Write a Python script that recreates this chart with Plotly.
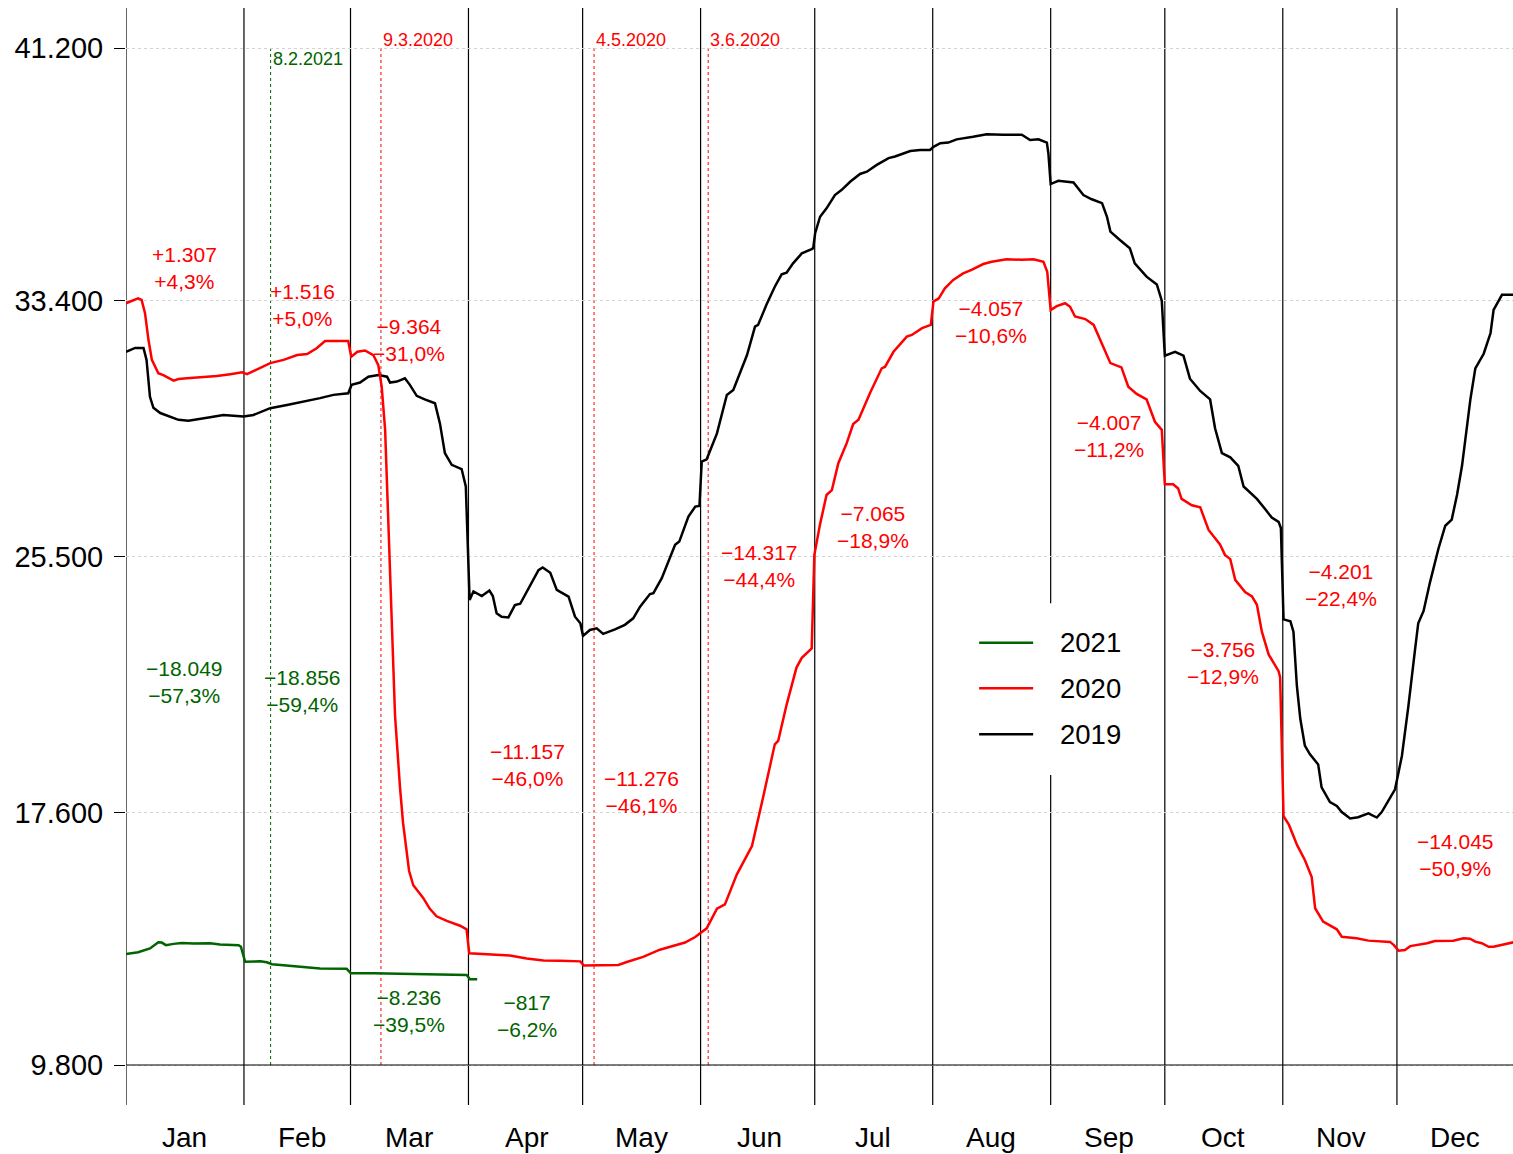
import plotly.graph_objects as go

FONT = "Liberation Sans, Arial, Helvetica, sans-serif"

months = ["Jan", "Feb", "Mar", "Apr", "May", "Jun", "Jul", "Aug", "Sep", "Oct", "Nov", "Dec"]
month_days = [31, 28, 31, 30, 31, 30, 31, 31, 30, 31, 30, 31]

y_ticks = [9800, 17600, 25500, 33400, 41200]
y_tick_text = ["9.800", "17.600", "25.500", "33.400", "41.200"]

# (day of year, value)
series_2019 = [
    (0, 31820), (2.4, 31940), (4.6, 31940), (5.4, 31570), (6.3, 30430), (7.2, 30090), (9, 29930),
    (11.6, 29820), (13.8, 29720), (16.4, 29690), (19.5, 29740), (22.1, 29800), (25.6, 29870),
    (30.9, 29820), (33.5, 29870), (37.9, 30080), (42.3, 30180), (46.7, 30280), (51.0, 30390),
    (54.5, 30490), (58.4, 30540), (59.3, 30800), (61.5, 30870), (63.7, 31050), (66.3, 31100),
    (68.6, 31050), (69.4, 30870), (71.2, 30900), (73.3, 31000), (74.6, 30800), (76.4, 30460),
    (78.5, 30350), (81.2, 30230), (82.5, 29610), (83.8, 28690), (85.6, 28330), (88.2, 28200),
    (89.3, 27660), (90.3, 24160), (91.3, 24420), (93.5, 24280), (95.5, 24450), (96.4, 24280),
    (97.4, 23750), (98.7, 23640), (100.5, 23620), (102.2, 24000), (103.6, 24040), (106.2, 24620),
    (108.4, 25080), (109.5, 25160), (111.5, 25000), (113.2, 24470), (116.3, 24260), (118.0, 23640),
    (119.4, 23440), (120.1, 23050), (121.9, 23230), (123.7, 23280), (125.4, 23110), (128.5, 23250),
    (131.1, 23390), (133.3, 23590), (135.1, 23950), (137.7, 24340), (138.6, 24370), (140.8, 24830),
    (144.3, 25860), (145.4, 25960), (147.8, 26730), (149.6, 27040), (150.7, 27060), (151.3, 28430),
    (152.6, 28500), (155.3, 29300), (157.9, 30490), (159.6, 30640), (161.4, 31160), (163.2, 31720),
    (165.3, 32600), (166.1, 32650), (168.3, 33270), (170.5, 33830), (172.3, 34210), (173.6, 34260),
    (175.3, 34550), (177.6, 34860), (180.2, 34990), (180.6, 35020), (181.1, 35480), (182.4, 35990),
    (184.1, 36250), (186.3, 36660), (188.1, 36820), (190.3, 37070), (192.9, 37310), (194.7, 37380),
    (197.3, 37590), (200.4, 37800), (202.1, 37850), (206.1, 38020), (208.7, 38050), (211.3, 38050),
    (212.2, 38150), (214.0, 38260), (216.1, 38280), (218.3, 38380), (222.6, 38460), (226.2, 38540),
    (230.5, 38520), (235.4, 38520), (237.6, 38360), (239.8, 38380), (242.0, 38280), (242.4, 37950),
    (243.0, 37000), (245.0, 37100), (249.0, 37050), (251.6, 36660), (253.8, 36530), (256.5, 36410),
    (257.8, 35990), (258.7, 35530), (261.2, 35270), (263.8, 35020), (265.1, 34550), (268.2, 34140),
    (270.9, 33900), (272.2, 33400), (273.0, 31700), (275.7, 31820), (277.9, 31700), (279.6, 30990),
    (282.3, 30610), (284.9, 30350), (286.2, 29460), (288.0, 28690), (290.2, 28560), (292.3, 28300),
    (293.7, 27660), (297.2, 27280), (299.4, 26960), (301.1, 26700), (302.9, 26570), (303.5, 26380),
    (304.2, 23560), (306.0, 23500), (306.8, 23180), (307.7, 21510), (308.6, 20490), (309.8, 19660),
    (311.1, 19400), (313.3, 19080), (314.2, 18370), (316.4, 17920), (318.2, 17800), (319.5, 17610),
    (321.7, 17410), (323.8, 17450), (326.5, 17570), (328.7, 17440), (330.0, 17610), (331.8, 17990),
    (333.5, 18310), (335.3, 19340), (337.0, 20870), (338.8, 22670), (339.6, 23440), (341.0, 23820),
    (342.7, 24710), (344.9, 25740), (346.7, 26450), (348.4, 26640), (349.8, 27410), (351.1, 28300),
    (352.4, 29460), (353.3, 30350), (354.6, 31310), (356.8, 31760), (358.6, 32400), (359.4, 33110),
    (361.6, 33580), (365, 33580),
]

series_2020 = [
    (0, 33320), (1.9, 33420), (3.2, 33470), (4.1, 33420), (5, 33010), (5.9, 32190), (6.8, 31570),
    (8.5, 31160), (9.8, 31100), (12.5, 30930), (13.8, 30980), (16, 31000), (19.5, 31030),
    (23.9, 31070), (27.4, 31130), (30.5, 31190), (31.8, 31130), (34, 31260), (37.9, 31470),
    (41.4, 31570), (45, 31720), (47.6, 31750), (50.1, 31930), (52.3, 32150), (55.4, 32160),
    (58.4, 32150), (59.2, 31670), (60.8, 31820), (62.8, 31860), (65.0, 31720), (66.3, 31410),
    (67.2, 30740), (68.1, 29410), (68.9, 26700), (69.9, 22790), (70.7, 20590), (72.0, 18380),
    (72.8, 17280), (74.4, 15790), (75.5, 15350), (78.1, 14960), (79.8, 14630), (81.6, 14390),
    (84.3, 14250), (87.8, 14100), (89.5, 13990), (90.2, 13250), (93.0, 13230), (96.5, 13200),
    (100.9, 13180), (105.3, 13090), (109.7, 13030), (114.1, 13020), (119.4, 13000), (120.3, 12870),
    (124.5, 12870), (129.4, 12890), (131.6, 12980), (135.9, 13140), (140.3, 13360), (143.8, 13470),
    (146.9, 13580), (149.6, 13750), (150.9, 13860), (152.6, 14020), (155.3, 14630), (157.4, 14760),
    (160.5, 15680), (164.5, 16560), (167.4, 18050), (170.5, 19700), (171.4, 19810), (173.6, 20920),
    (176.2, 22070), (177.6, 22370), (180.2, 22660), (180.9, 25550), (182.4, 26500), (184.1, 27400),
    (185.5, 27550), (187.2, 28380), (189.4, 29000), (191.1, 29590), (192.5, 29720), (195.5, 30540),
    (198.6, 31310), (199.5, 31360), (201.7, 31820), (205.2, 32290), (206.5, 32340), (209.2, 32550),
    (211.5, 32650), (212.2, 33370), (213.6, 33470), (215.2, 33780), (217.4, 34040), (220.0, 34240),
    (222.2, 34350), (225.3, 34530), (227.5, 34600), (231.4, 34680), (235.4, 34660), (238.5, 34680),
    (241.1, 34600), (242.1, 34290), (243.0, 33110), (244.6, 33230), (246.8, 33320), (248.1, 33210),
    (249.4, 32910), (252.1, 32830), (254.3, 32650), (256.9, 31980), (258.7, 31470), (261.6, 31340),
    (263.4, 30740), (265.6, 30520), (268.2, 30350), (270.4, 29660), (272.2, 29410), (273.0, 27730),
    (275.2, 27730), (276.5, 27600), (277.4, 27280), (280.1, 27080), (282.3, 27020), (284.5, 26320),
    (287.5, 25870), (288.8, 25550), (290.2, 25420), (291.5, 24780), (294.1, 24400), (295.9, 24270),
    (297.2, 24010), (298.5, 23180), (300.3, 22470), (302.9, 21960), (303.3, 21770), (304.2, 17480),
    (305.6, 17220), (307.8, 16580), (309.8, 16130), (311.6, 15600), (312.5, 14640), (314.6, 14230),
    (316.4, 14120), (318.2, 13990), (319.5, 13760), (323.4, 13710), (326.5, 13640), (332.2, 13600),
    (333.2, 13500), (334.4, 13330), (336.1, 13350), (337.5, 13470), (341.9, 13560), (344.0, 13630),
    (348.8, 13640), (351.5, 13710), (353.2, 13700), (354.6, 13610), (356.3, 13560), (358.1, 13450),
    (359.4, 13450), (365, 13600),
]

series_2021 = [
    (0, 13230), (3.2, 13280), (6.3, 13400), (8.5, 13590), (9.4, 13580), (10.5, 13500), (12.5, 13540),
    (14.7, 13570), (17.7, 13550), (22.1, 13560), (24.7, 13520), (29.6, 13500), (30.2, 13450),
    (31.3, 12990), (35.3, 13000), (37, 12970), (38.4, 12910), (42.3, 12870), (46.7, 12810),
    (51.0, 12780), (58.0, 12770), (59.1, 12630), (65.0, 12630), (72.8, 12610), (81.6, 12600),
    (89.5, 12580), (90.4, 12450), (92.3, 12450),
]

# monthly change 2020 vs 2019
diff_2020 = ["+1.307", "+1.516", "\u22129.364", "\u221211.157", "\u221211.276", "\u221214.317",
             "\u22127.065", "\u22124.057", "\u22124.007", "\u22123.756", "\u22124.201", "\u221214.045"]
pct_2020 = ["+4,3%", "+5,0%", "\u221231,0%", "\u221246,0%", "\u221246,1%", "\u221244,4%",
            "\u221218,9%", "\u221210,6%", "\u221211,2%", "\u221212,9%", "\u221222,4%", "\u221250,9%"]
# monthly change 2021 vs 2020
diff_2021 = ["\u221218.049", "\u221218.856", "\u22128.236", "\u2212817"]
pct_2021 = ["\u221257,3%", "\u221259,4%", "\u221239,5%", "\u22126,2%"]

# label placement (day of year of each month label / value level of each change label)
month_label_x = [15.4, 46.3, 74.4, 105.5, 135.5, 166.4, 196.2, 227.3, 258.2, 288.3, 319.4, 349.3]
label_y_2020 = [34420, 33250, 32200, 19050, 18240, 25210, 26410, 32740, 29220, 22200, 24620, 16270]
label_y_2021 = [21625, 21360, 11470, 11300]

event_labels = ["8.2.2021", "9.3.2020", "4.5.2020", "3.6.2020"]
event_days = [38, 67, 123, 153]
event_years = ["2021", "2020", "2020", "2020"]

COL = {"2019": "#000000", "2020": "#FF0000", "2021": "#006400"}

fig = go.Figure()
for name, ser in [("2019", series_2019), ("2020", series_2020), ("2021", series_2021)]:
    fig.add_trace(go.Scatter(
        x=[p[0] for p in ser], y=[p[1] for p in ser], mode="lines", name=name,
        line=dict(color=COL[name], width=2.5), showlegend=False, hoverinfo="skip"))

shapes = []
annotations = []

# month boundaries
bounds = [0]
for d in month_days:
    bounds.append(bounds[-1] + d)
for b in bounds:
    shapes.append(dict(type="line", xref="x", yref="paper", x0=b, x1=b, y0=0, y1=1,
                       line=dict(color="#000000", width=1.2), layer="below"))

# base line
shapes.append(dict(type="line", xref="x", yref="y", x0=0, x1=365, y0=y_ticks[0], y1=y_ticks[0],
                   line=dict(color="#000000", width=1.2), layer="above"))

# event lines
for lab, d, yr in zip(event_labels, event_days, event_years):
    shapes.append(dict(type="line", xref="x", yref="y", x0=d, x1=d, y0=y_ticks[0], y1=y_ticks[-1],
                       line=dict(color=COL[yr], width=1, dash="dot"), layer="below"))
    annotations.append(dict(x=d, y=40860 if yr == "2021" else 41450, xref="x", yref="y", text=lab,
                            showarrow=False, xanchor="left", yanchor="middle", xshift=0,
                            font=dict(family=FONT, size=18, color=COL[yr])))

# month labels
for m, mx in zip(months, month_label_x):
    annotations.append(dict(x=mx, y=0, xref="x", yref="paper", text=m,
                            showarrow=False, xanchor="center", yanchor="middle", yshift=-32,
                            font=dict(family=FONT, size=28, color="#000000")))

for x, y, d, p in zip(month_label_x, label_y_2020, diff_2020, pct_2020):
    annotations.append(dict(x=x, y=y, xref="x", yref="y", text=d + "<br>" + p, showarrow=False,
                            xanchor="center", yanchor="middle",
                            font=dict(family=FONT, size=21, color=COL["2020"])))
for x, y, d, p in zip(month_label_x, label_y_2021, diff_2021, pct_2021):
    annotations.append(dict(x=x, y=y, xref="x", yref="y", text=d + "<br>" + p, showarrow=False,
                            xanchor="center", yanchor="middle",
                            font=dict(family=FONT, size=21, color=COL["2021"])))

# legend (drawn manually)
shapes.append(dict(type="rect", xref="x", yref="y", x0=219, x1=266.5, y0=18750, y1=24060,
                   fillcolor="#FFFFFF", line=dict(width=0), layer="above"))
for name, ly in [("2021", 22840), ("2020", 21430), ("2019", 20010)]:
    shapes.append(dict(type="line", xref="x", yref="y", x0=224.2, x1=238.4, y0=ly, y1=ly,
                       line=dict(color=COL[name], width=2.5), layer="above"))
    annotations.append(dict(x=245.0, y=ly, xref="x", yref="y", text=name, showarrow=False,
                            xanchor="left", yanchor="middle",
                            font=dict(family=FONT, size=27.5, color="#000000")))

fig.update_layout(
    width=1513, height=1154,
    margin=dict(l=126, r=0, t=8, b=49),
    paper_bgcolor="#FFFFFF", plot_bgcolor="#FFFFFF",
    font=dict(family=FONT, color="#000000"),
    shapes=shapes, annotations=annotations,
    showlegend=False,
)
fig.update_xaxes(range=[0, 364.5], showgrid=False, zeroline=False, showline=False,
                 showticklabels=False, ticks="")
fig.update_yaxes(range=[8565, 42435], tickvals=y_ticks, ticktext=y_tick_text,
                 ticks="outside", ticklen=11, tickwidth=1, tickcolor="#000000",
                 tickfont=dict(family=FONT, size=29, color="#000000"),
                 ticklabelstandoff=5,
                 showgrid=True, gridcolor="#D3D3D3", griddash="dot", gridwidth=1,
                 zeroline=False, showline=False)

fig.write_html("out.html", config={"displayModeBar": False})

# remove the browser's default page margin so the figure fills the window exactly
with open("out.html", "r", encoding="utf-8") as f:
    html = f.read()
html = html.replace("<head>", "<head><style>html,body{margin:0;padding:0;overflow:hidden;}</style>", 1)
with open("out.html", "w", encoding="utf-8") as f:
    f.write(html)
